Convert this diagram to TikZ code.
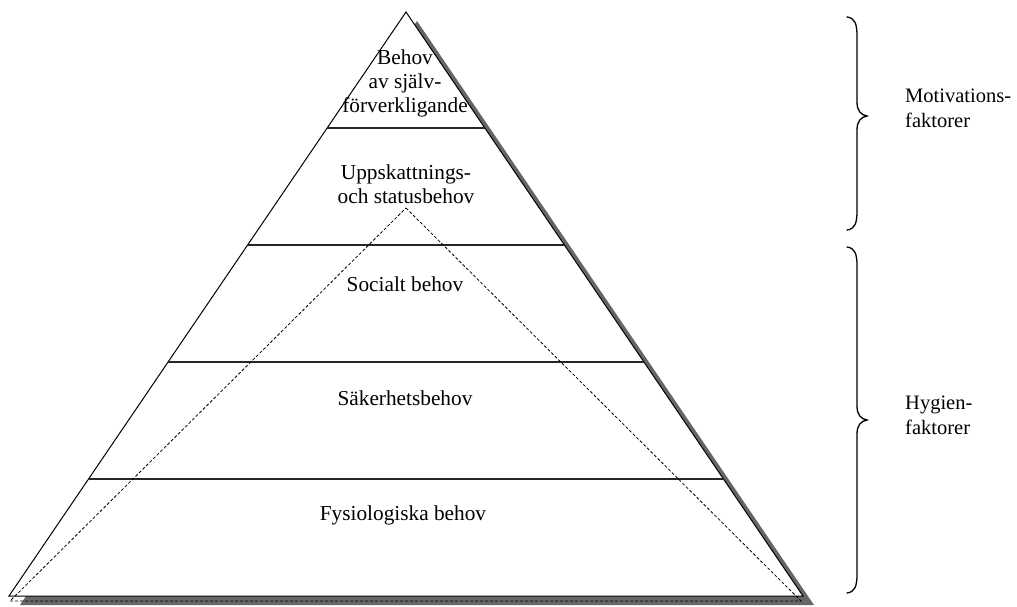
\documentclass[tikz,border=0pt]{standalone}
\usepackage{fontspec}
\setmainfont{Liberation Serif}
\usetikzlibrary{calc}
\begin{document}
\begin{tikzpicture}[x=1pt,y=-1pt,
  edge/.style={line width=1pt,line join=miter},
  divider/.style={line width=1.2pt,black!85},
  inner/.style={line width=0.8pt,dash pattern=on 3pt off 2pt},
  brace/.style={line width=1.3pt,line cap=round},
  level/.style={font=\fontsize{21.3}{24}\selectfont,align=center,inner sep=0pt,anchor=base},
  side/.style={font=\fontsize{20.5}{25}\selectfont,align=left,inner sep=0pt,anchor=base west}]
\useasboundingbox (0,0) rectangle (1017,607);

% pyramid corners
\coordinate (top) at (406,12);
\coordinate (bl)  at (9,596);
\coordinate (br)  at (803,596);

% drop shadow behind the pyramid
\fill[black!60] ($(top)+(11,9)$) -- ($(br)+(11,9)$) -- ($(bl)+(11,9)$) -- cycle;
\fill[white] (top) -- (br) -- (bl) -- cycle;
\draw[edge] (top) -- (br) -- (bl) -- cycle;

% level boundaries
\coordinate (l1a) at (327,128); \coordinate (l1b) at (485,128);
\coordinate (l2a) at (248,245); \coordinate (l2b) at (564,245);
\coordinate (l3a) at (168,362); \coordinate (l3b) at (644,362);
\coordinate (l4a) at (88,479);  \coordinate (l4b) at (724,479);
\draw[divider] (l1a) -- (l1b);
\draw[divider] (l2a) -- (l2b);
\draw[divider] (l3a) -- (l3b);
\draw[divider] (l4a) -- (l4b);

% inner dashed triangle
\coordinate (dtop) at (406,208);
\coordinate (dbl)  at (10,601);
\coordinate (dbr)  at (801,601);
\draw[inner] (dtop) -- (dbr) -- (dbl) -- cycle;

% level labels (anchored at the baseline of the last line)
\node[level] (self) at (405,113) {Behov\\av själv-\\förverkligande};
\node[level] (esteem) at (406,203) {Uppskattnings-\\och statusbehov};
\node[level] (social) at (405,291) {Socialt behov};
\node[level] (safety) at (405,405) {Säkerhetsbehov};
\node[level] (phys) at (403,520) {Fysiologiska behov};

% braces on the right
\coordinate (m1) at (847,17);  \coordinate (m2) at (847,230); \coordinate (mt) at (867,116);
\coordinate (h1) at (847,247); \coordinate (h2) at (847,593); \coordinate (ht) at (867,420);
\draw[brace] (m1) .. controls (855,18) and (857,24) .. (857,36)
  -- (857,102) .. controls (857,111) and (861,115) .. (mt)
  .. controls (861,117) and (857,121) .. (857,130)
  -- (857,211) .. controls (857,223) and (855,229) .. (m2);
\draw[brace] (h1) .. controls (855,248) and (857,254) .. (857,266)
  -- (857,406) .. controls (857,415) and (861,419) .. (ht)
  .. controls (861,421) and (857,425) .. (857,434)
  -- (857,574) .. controls (857,586) and (855,592) .. (h2);

\node[side] (motiv) at (905,128) {Motivations-\\faktorer};
\node[side] (hyg) at (905,434) {Hygien-\\faktorer};
\end{tikzpicture}
\end{document}
